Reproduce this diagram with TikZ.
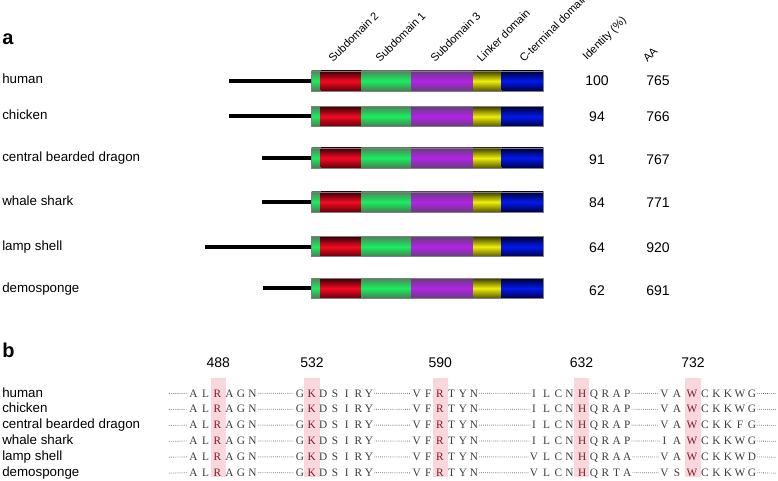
\documentclass[tikz,border=0pt]{standalone}
\usepackage{fontspec}
\setmainfont{Liberation Sans}
\newfontfamily\seqfont{Liberation Serif}
\definecolor{rTop}{RGB}{55,0,5}
\definecolor{rMid}{RGB}{245,10,35}
\definecolor{rBot}{RGB}{100,0,10}
\definecolor{gTop}{RGB}{75,135,90}
\definecolor{gMid}{RGB}{25,238,95}
\definecolor{gBot}{RGB}{70,125,80}
\definecolor{pTop}{RGB}{105,60,125}
\definecolor{pMid}{RGB}{178,35,232}
\definecolor{pBot}{RGB}{105,60,125}
\definecolor{yTop}{RGB}{60,60,0}
\definecolor{yMid}{RGB}{238,238,10}
\definecolor{yBot}{RGB}{85,85,0}
\definecolor{bTop}{RGB}{0,0,50}
\definecolor{bMid}{RGB}{0,25,238}
\definecolor{bBot}{RGB}{0,0,70}
\definecolor{hlpink}{RGB}{250,215,220}
\definecolor{hlred}{RGB}{125,30,40}
\definecolor{seqgray}{RGB}{60,60,60}
\newcommand\hl[1]{\textcolor{hlred}{#1}}
\newcommand\domainbar[2]{%
  \shade[top color=gTop, bottom color=gBot, middle color=gMid] (311.5,#1-10) rectangle (320.5,#1+10);
  \shade[top color=rTop, bottom color=rBot, middle color=rMid] (320.5,#1-10) rectangle (361.5,#1+10);
  \shade[top color=gTop, bottom color=gBot, middle color=gMid] (361.5,#1-10) rectangle (411,#1+10);
  \shade[top color=pTop, bottom color=pBot, middle color=pMid] (411,#1-10) rectangle (473,#1+10);
  \shade[top color=yTop, bottom color=yBot, middle color=yMid] (473,#1-10) rectangle (501.5,#1+10);
  \shade[top color=bTop, bottom color=bBot, middle color=bMid] (501.5,#1-10) rectangle (543.3,#1+10);
  \node[draw=gray, line width=0.5pt, inner sep=0, minimum width=231.8*0.75pt, minimum height=20*0.75pt] (#2) at (427.4,#1) {};
}
\begin{document}
\begin{tikzpicture}[x=0.75pt,y=-0.75pt,
  lab/.style={anchor=base west, inner sep=0, font=\fontsize{10}{12}\selectfont},
  num/.style={anchor=base, inner sep=0, font=\fontsize{10.5}{12}\selectfont},
  hdr/.style={anchor=base west, inner sep=0, rotate=45, font=\fontsize{8.3}{10}\selectfont},
  panel/.style={anchor=base west, inner sep=0, font=\fontsize{15}{17}\selectfont\bfseries},
  tail/.style={line width=3pt, black},
  aa/.style={anchor=base, inner sep=0, text=seqgray, font=\seqfont\fontsize{8.5}{10}\selectfont},
  dotline/.style={seqgray, line width=0.65pt, line cap=round, dash pattern=on 0pt off 1.45pt, shorten <=1pt, shorten >=1pt},
  hlbox/.style={fill=hlpink, draw=none}]
\useasboundingbox (0,0) rectangle (778,481);
% ---------- panel a ----------
\node[panel] (pa) at (2,45) {a};
\node[hdr] (h1) at (333,63) {Subdomain 2};
\node[hdr] (h2) at (380,63) {Subdomain 1};
\node[hdr] (h3) at (435,63) {Subdomain 3};
\node[hdr] (h4) at (481.5,63) {Linker domain};
\node[hdr] (h5) at (524,63) {C-terminal domain};
\node[hdr] (h6) at (587,61) {Identity (\%)};
\node[hdr] (h7) at (647.5,63) {AA};
\foreach \i/\yc/\xs/\nm/\lb/\idn/\aan in {
  1/81/229.3/human/83.3/100/765,
  2/116.5/229.3/chicken/119.3/94/766,
  3/158/262/central bearded dragon/161.7/91/767,
  4/202/262.3/whale shark/205.3/84/771,
  5/246.7/205/lamp shell/250/64/920,
  6/288.3/263.3/demosponge/292.7/62/691}{
  \node[lab] (sp\i) at (2,\lb) {\nm};
  \domainbar{\yc}{bar\i}
  \coordinate (t\i) at (\xs,\yc);
  \draw[tail] (t\i) -- (bar\i.west);
  \node[num] (id\i) at (597,\lb+2.5) {\idn};
  \node[num] (len\i) at (658,\lb+2.5) {\aan};
}
% ---------- panel b ----------
\node[panel] (pb) at (2,357) {b};
\foreach \k/\xc/\pos in {1/218.3/488,2/312/532,3/440.3/590,4/581.5/632,5/693/732}{
  \fill[hlbox] (\xc-7.6,377.7) rectangle (\xc+7.6,476.7);
  \node[num] (pos\k) at (\xc,367.3) {\pos};
}
\foreach \rw/\nm/\sq in {
  1/human/{A,L,\hl R,A,G,N,G,\hl K,D,S,I,R,Y,V,F,\hl R,T,Y,N,I,L,C,N,\hl H,Q,R,A,P,V,A,\hl W,C,K,K,W,G},
  2/chicken/{A,L,\hl R,A,G,N,G,\hl K,D,S,I,R,Y,V,F,\hl R,T,Y,N,I,L,C,N,\hl H,Q,R,A,P,V,A,\hl W,C,K,K,W,G},
  3/central bearded dragon/{A,L,\hl R,A,G,N,G,\hl K,D,S,I,R,Y,V,F,\hl R,T,Y,N,I,L,C,N,\hl H,Q,R,A,P,V,A,\hl W,C,K,K,F,G},
  4/whale shark/{A,L,\hl R,A,G,N,G,\hl K,D,S,I,R,Y,V,F,\hl R,T,Y,N,I,L,C,N,\hl H,Q,R,A,P,I,A,\hl W,C,K,K,W,G},
  5/lamp shell/{A,L,\hl R,A,G,N,G,\hl K,D,S,I,R,Y,V,F,\hl R,T,Y,N,V,L,C,N,\hl H,Q,R,A,A,V,A,\hl W,C,K,K,W,D},
  6/demosponge/{A,L,\hl R,A,G,N,G,\hl K,D,S,I,R,Y,V,F,\hl R,T,Y,N,V,L,C,N,\hl H,Q,R,T,A,V,S,\hl W,C,K,K,W,G}}{
  \pgfmathsetmacro\bl{397+15.9*(\rw-1)}
  \node[lab] (bl\rw) at (2,\bl) {\nm};
  \foreach \l [count=\c] in \sq {
    \pgfmathsetmacro\xx{{193.5,205.5,217.5,229.5,241,252.5,300,311.7,323.3,335,346.7,358.3,369,416.7,428.3,440,451.7,463,474,534,546.5,558.3,569.5,582.3,594,605.5,616.7,627.3,664.5,677,692,705,716.5,728,740,752}[\c-1]}
    \node[aa] (s-\rw-\c) at (\xx,\bl) {\l};
  }
  \coordinate (st\rw) at (168,\bl-3.4);
  \coordinate (en\rw) at (777,\bl-3.4);
  \draw[dotline] (st\rw) -- (s-\rw-1.west);
  \draw[dotline] (s-\rw-6.east) -- (s-\rw-7.west);
  \draw[dotline] (s-\rw-13.east) -- (s-\rw-14.west);
  \draw[dotline] (s-\rw-19.east) -- (s-\rw-20.west);
  \draw[dotline] (s-\rw-28.east) -- (s-\rw-29.west);
  \draw[dotline] (s-\rw-36.east) -- (en\rw);
}
\end{tikzpicture}
\end{document}
